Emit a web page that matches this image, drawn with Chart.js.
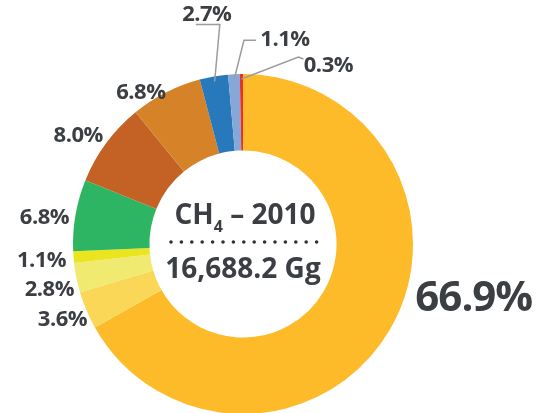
<!DOCTYPE html>
<html>
<head>
<meta charset="utf-8">
<script src="https://cdn.jsdelivr.net/npm/chart.js@4.4.0/dist/chart.umd.min.js"></script>
<style>
  html, body { margin: 0; padding: 0; background: #fff; }
  #wrap { width: 545px; height: 413px; }
</style>
</head>
<body>
<div id="wrap"><canvas id="chart" width="545" height="413"></canvas></div>
<script>
// CH4 emissions 2010, share of total by source (%)
const sources = ['Source 1', 'Source 2', 'Source 3', 'Source 4', 'Source 5',
                 'Source 6', 'Source 7', 'Source 8', 'Source 9', 'Source 10'];
const shares = [66.9, 3.6, 2.8, 1.1, 6.8, 8.0, 6.8, 2.7, 1.1, 0.3];
const shareLabels = ['66.9%', '3.6%', '2.8%', '1.1%', '6.8%', '8.0%', '6.8%', '2.7%', '1.1%', '0.3%'];
const sliceColors = ['#fdbb2a', '#fbd758', '#f0ea70', '#ebe520', '#2db563',
                     '#c46226', '#d58228', '#2878bc', '#86a7d7', '#e8312f'];

const gasName = 'CH';
const gasSub = '4';
const year = '2010';
const totalLabel = '16,688.2 Gg';

const TEXT = '#3b3e42';
const FONT = '"Open Sans", "Noto Sans", sans-serif';

// label offset from the outer middle of each slice, and optional leader (elbow, end) relative to label
const labelOffsets = [[84, -31], [-24, 10], [-27, 12], [-32, 4], [-31, 3],
                      [-28, -7], [-25, 0], [-7, -62], [51, -35], [87, -8]];
const leaders = [null, null, null, null, null, null, null,
                 [13, 10, -11, 10], [-41, 1, -29, 1], [-30, -9, -25, -7]];

const labelPlugin = {
  id: 'sliceLabels',
  afterDatasetsDraw(chart) {
    const ctx = chart.ctx;
    const arcs = chart.getDatasetMeta(0).data;
    ctx.save();
    let cx = 0, cy = 0;
    arcs.forEach((arc, i) => {
      const p = arc.getProps(['x', 'y', 'startAngle', 'endAngle', 'outerRadius'], true);
      cx = p.x; cy = p.y;
      const mid = (p.startAngle + p.endAngle) / 2;
      const ax = p.x + Math.cos(mid) * p.outerRadius;
      const ay = p.y + Math.sin(mid) * p.outerRadius;
      const lx = ax + labelOffsets[i][0];
      const ly = ay + labelOffsets[i][1];
      const lead = leaders[i];
      if (lead) {
        ctx.strokeStyle = '#9c9c9c';
        ctx.lineWidth = 1.5;
        ctx.beginPath();
        ctx.moveTo(p.x + Math.cos(mid) * (p.outerRadius - 5), p.y + Math.sin(mid) * (p.outerRadius - 5));
        ctx.lineTo(lx + lead[0], ly + lead[1]);
        ctx.lineTo(lx + lead[2], ly + lead[3]);
        ctx.stroke();
      }
      ctx.font = (i === 0 ? '700 42px ' : '700 22px ') + FONT;
      ctx.letterSpacing = i === 0 ? '-1px' : '-0.5px';
      ctx.fillStyle = TEXT;
      ctx.textAlign = 'center';
      ctx.textBaseline = 'middle';
      ctx.fillText(shareLabels[i], lx, ly);
    });
    ctx.letterSpacing = '0px';

    // centre title: CH4 – 2010
    ctx.textAlign = 'left';
    ctx.textBaseline = 'alphabetic';
    const big = '700 28px ' + FONT;
    const small = '700 16px ' + FONT;
    const rest = ' \u2013 ' + year;
    ctx.font = big;
    const w1 = ctx.measureText(gasName).width;
    const w3 = ctx.measureText(rest).width;
    ctx.font = small;
    const w2 = ctx.measureText(gasSub).width;
    let x = cx + 2 - (w1 + w2 + w3) / 2;
    ctx.font = big;
    ctx.fillText(gasName, x, cy - 20);
    x += w1;
    ctx.font = small;
    ctx.fillText(gasSub, x, cy - 12);
    x += w2;
    ctx.font = big;
    ctx.fillText(rest, x, cy - 20);

    // dotted rule
    ctx.fillStyle = '#2e3033';
    for (let k = 0; k < 15; k++) {
      ctx.beginPath();
      ctx.arc(cx - 72 + k * 10.4, cy - 2, 1.8, 0, Math.PI * 2);
      ctx.fill();
    }

    // total
    ctx.fillStyle = TEXT;
    ctx.font = big;
    ctx.textAlign = 'center';
    ctx.fillText(totalLabel, cx, cy + 34);
    ctx.restore();
  }
};

new Chart(document.getElementById('chart'), {
  type: 'doughnut',
  data: {
    labels: sources,
    datasets: [{
      data: shares,
      backgroundColor: sliceColors,
      borderWidth: 0
    }]
  },
  options: {
    responsive: false,
    animation: false,
    radius: 170,
    cutout: 93,
    layout: { padding: { left: 73, right: 132, top: 75, bottom: -2 } },
    plugins: {
      legend: { display: false },
      tooltip: { enabled: false }
    }
  },
  plugins: [labelPlugin]
});
</script>
</body>
</html>
